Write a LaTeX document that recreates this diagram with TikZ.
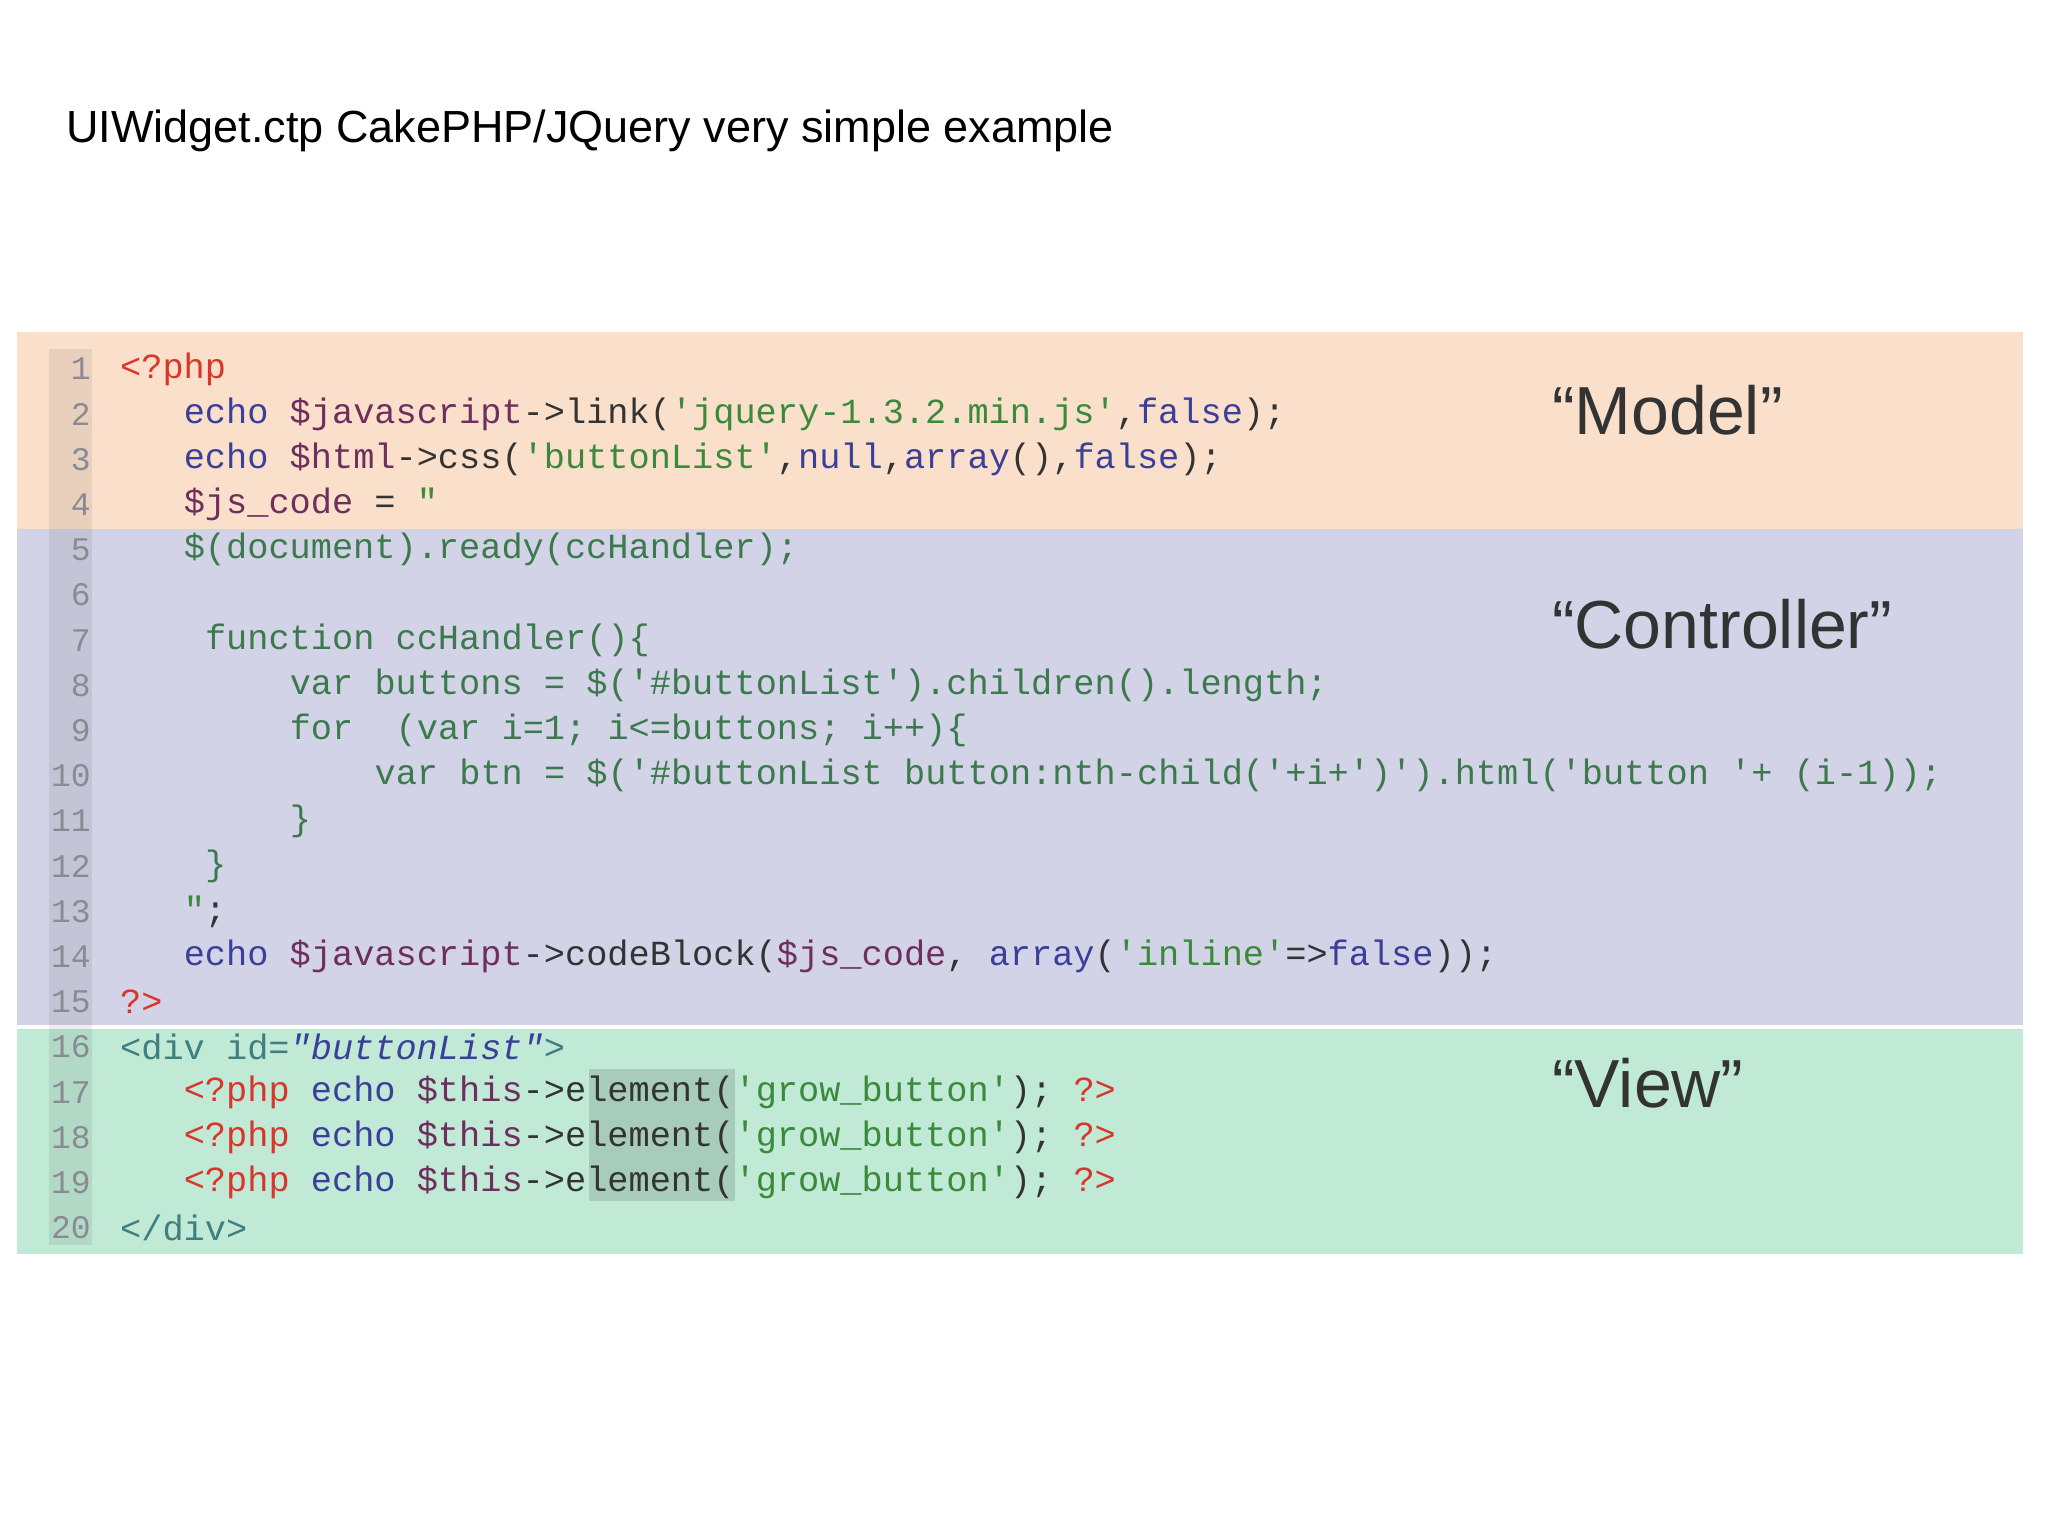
\documentclass[tikz,border=0pt]{standalone}
\usepackage{fontspec}
\setmainfont{Liberation Sans}
\setmonofont{Liberation Mono}
\definecolor{modelc}{HTML}{FAE0CB}
\definecolor{ctrlc}{HTML}{D3D3E8}
\definecolor{viewc}{HTML}{C0E9D6}
\definecolor{tagc}{HTML}{D9352A}
\definecolor{kwc}{HTML}{3B3F9A}
\definecolor{varc}{HTML}{6E2E5E}
\definecolor{strc}{HTML}{3A8A3A}
\definecolor{jsc}{HTML}{3C7A4E}
\definecolor{plc}{HTML}{333333}
\definecolor{htc}{HTML}{3F7F7F}
\definecolor{numc}{HTML}{8A8A95}
\newcommand\T[1]{\textcolor{tagc}{#1}}
\newcommand\K[1]{\textcolor{kwc}{#1}}
\newcommand\V[1]{\textcolor{varc}{#1}}
\newcommand\St[1]{\textcolor{strc}{#1}}
\newcommand\J[1]{\textcolor{jsc}{#1}}
\newcommand\Hh[1]{\textcolor{htc}{#1}}
\begin{document}
\begin{tikzpicture}[x=1pt,y=-1pt,
  code/.style={anchor=west,inner sep=0pt,text=plc,font=\ttfamily\fontsize{35.3}{40}\selectfont},
  num/.style={anchor=east,inner sep=0pt,text=numc,font=\ttfamily\fontsize{33}{40}\selectfont},
  lab/.style={anchor=west,inner sep=0pt,text=plc,font=\fontsize{68}{80}\selectfont}]
\useasboundingbox[fill=white] (0,0) rectangle (2048,1535);
\node[anchor=base west,inner sep=0pt,font=\fontsize{45}{54}\selectfont] (title) at (66,142) {UIWidget.ctp CakePHP/JQuery very simple example};
\fill[modelc] (17,332) rectangle (2023,529);
\fill[ctrlc] (17,529) rectangle (2023,1025);
\fill[viewc] (17,1029) rectangle (2023,1254);
\fill[black,opacity=0.07] (49,349) rectangle (92,1245);
\fill[black,opacity=0.12] (589,1069) rectangle (735,1201);
\foreach \n in {1,...,20}{
  \node[num] (n\n) at (91,{369+(\n-1)*45.2}) {\n};
}
\def\L#1{{369+(#1-1)*45.2}}
\def\X#1{{120+#1*21.2}}
\node[code] (c1) at (\X{0},\L{1}) {\T{<?php}};
\node[code] (c2) at (\X{3},\L{2}) {\K{echo} \V{\$javascript}->link(\St{'jquery-1.3.2.min.js'},\K{false});};
\node[code] (c3) at (\X{3},\L{3}) {\K{echo} \V{\$html}->css(\St{'buttonList'},\K{null},\K{array}(),\K{false});};
\node[code] (c4) at (\X{3},\L{4}) {\V{\$js\_code} = \St{"}};
\node[code] (c5) at (\X{3},\L{5}) {\J{\$(document).ready(ccHandler);}};
\node[code] (c7) at (\X{4},\L{7}) {\J{function ccHandler()\{}};
\node[code] (c8) at (\X{8},\L{8}) {\J{var buttons = \$('\#buttonList').children().length;}};
\node[code] (c9) at (\X{8},\L{9}) {\J{for\ \ (var i=1; i<=buttons; i++)\{}};
\node[code] (c10) at (\X{12},\L{10}) {\J{var btn = \$('\#buttonList button:nth-child('+i+')').html('button '+ (i-1));}};
\node[code] (c11) at (\X{8},\L{11}) {\J{\}}};
\node[code] (c12) at (\X{4},\L{12}) {\J{\}}};
\node[code] (c13) at (\X{3},\L{13}) {\St{"};};
\node[code] (c14) at (\X{3},\L{14}) {\K{echo} \V{\$javascript}->codeBlock(\V{\$js\_code}, \K{array}(\St{'inline'}=>\K{false}));};
\node[code] (c15) at (\X{0},\L{15}) {\T{?>}};
\node[code] (c16) at (\X{0},\L{16}) {\Hh{<div id=}\K{\itshape"buttonList"}\Hh{>}};
\foreach \n in {17,18,19}{
  \node[code] (c\n) at (\X{3},\L{\n}) {\T{<?php} \K{echo} \V{\$this}->element(\St{'grow\_button'}); \T{?>}};
}
\node[code] (c20) at (\X{0},\L{20}) {\Hh{</div>}};
\node[lab] (model) at (1552,410) {“Model”};
\node[lab] (ctrl) at (1552,624) {“Controller”};
\node[lab] (view) at (1552,1083) {“View”};
\end{tikzpicture}
\end{document}
